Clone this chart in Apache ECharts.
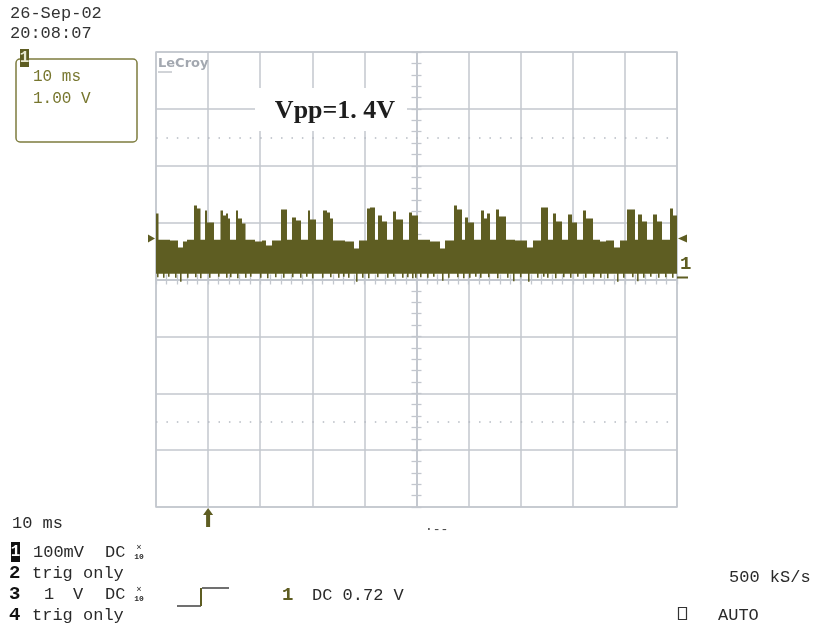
<!DOCTYPE html>
<html><head><meta charset="utf-8">
<script src="https://cdn.jsdelivr.net/npm/echarts@6/dist/echarts.min.js"></script>
<style>html,body{margin:0;padding:0;background:#fff}#c{width:815px;height:630px}</style>
</head><body><div id="c"></div>
<script>
// ---- data (time in ms from left edge, 10 ms/div; volts, 1 V/div) ----
const upperEnv = [[0,1.16],[0.48,0.70],[2.69,0.685],[4.22,0.562],[5.18,0.668],[5.95,0.70],[7.29,1.30],[7.87,1.248],[8.54,0.70],[9.41,1.213],[9.79,1.002],[11.13,0.70],[12.38,1.213],[12.86,1.125],[13.44,1.16],[13.82,1.072],[14.20,0.70],[15.36,1.213],[15.74,1.072],[16.51,0.984],[17.18,0.70],[19.00,0.668],[20.35,0.685],[21.11,0.598],[22.27,0.685],[23.99,1.23],[25.14,0.70],[26.10,1.09],[26.87,1.037],[27.83,0.70],[29.17,1.213],[29.56,1.055],[30.71,0.70],[32.05,1.213],[32.82,1.178],[33.40,1.072],[33.97,0.685],[36.28,0.668],[38.00,0.545],[38.96,0.685],[40.50,1.248],[41.08,1.265],[42.03,0.70],[42.61,1.125],[43.38,1.019],[44.34,0.70],[45.49,1.195],[46.07,1.055],[47.41,0.70],[48.56,1.178],[49.14,1.125],[50.29,0.70],[52.59,0.668],[54.51,0.545],[55.47,0.685],[57.20,1.30],[57.77,1.23],[58.73,0.70],[59.31,1.09],[59.89,1.002],[61.04,0.70],[62.38,1.213],[62.96,1.072],[63.53,1.16],[64.11,0.70],[65.26,1.23],[65.84,1.107],[67.18,0.70],[68.91,0.685],[71.21,0.562],[72.36,0.685],[73.90,1.265],[75.24,0.70],[76.20,1.16],[76.78,1.019],[77.93,0.70],[79.08,1.142],[79.85,1.002],[80.81,0.70],[81.96,1.213],[82.53,1.072],[83.88,0.70],[85.22,0.668],[86.37,0.685],[87.91,0.562],[89.06,0.685],[90.40,1.23],[91.94,0.70],[92.51,1.142],[93.28,1.019],[94.24,0.70],[95.39,1.142],[96.16,1.019],[97.12,0.70],[98.66,1.248],[99.23,1.125],[100,1.125]];
const lowerBase = 0.10;
const lowerSpikeT = [0.19,1.34,2.30,3.65,4.61,5.95,7.49,8.45,10.17,11.90,13.44,14.20,15.55,17.08,18.04,19.96,21.30,22.84,24.38,26.10,27.64,28.79,29.94,31.86,33.40,34.93,35.89,36.85,38.39,39.54,40.69,42.42,44.34,45.49,47.22,48.18,49.14,49.71,50.67,52.02,53.17,54.89,56.05,57.78,58.93,60.08,61.23,62.19,63.72,65.45,67.37,68.52,69.86,71.40,73.13,74.28,75.05,76.58,78.12,79.46,80.81,82.34,83.88,85.22,86.56,88.48,89.64,91.37,92.33,93.48,94.82,96.35,97.70,99.04];
const lowerSpikeV = [0.04,0.03,0.05,0.03,-0.04,0.03,0.04,0.02,0.03,0.05,0.03,0.04,0.02,0.03,0.05,0.03,0.02,0.04,0.03,0.04,0.03,0.05,0.02,0.03,0.04,0.03,0.05,0.03,-0.04,0.03,0.02,0.04,0.03,0.05,0.03,0.04,0.02,0.03,0.04,0.03,0.05,-0.02,0.03,0.04,0.02,0.03,0.05,0.03,0.04,0.02,0.03,-0.03,0.04,-0.04,0.03,0.05,0.03,0.02,0.04,0.03,0.05,0.03,0.04,0.03,0.02,-0.04,0.03,0.04,-0.03,0.03,0.05,0.03,0.04,0.03];
const triggerLevel = 0.72;   // V
const triggerTime = 10;      // ms from left edge
const groundLevel = 0;       // V
const dottedLevels = [2.5, -2.5];

// ---- build band table ----
const spikeWidth = 0.3;
const lowerEnv = [[0, lowerBase]];
lowerSpikeT.forEach((t, i) => { lowerEnv.push([t, lowerSpikeV[i]]); lowerEnv.push([t + spikeWidth, lowerBase]); });
function stepVal(pairs, t) { let v = pairs[0][1]; for (const p of pairs) { if (p[0] <= t + 1e-9) v = p[1]; else break; } return v; }
const ts = Array.from(new Set(upperEnv.map(p => p[0]).concat(lowerEnv.map(p => p[0])))).filter(t => t < 100).sort((a, b) => a - b);
const band = ts.map((t, i) => [t, i < ts.length - 1 ? ts[i + 1] : 100, stepVal(lowerEnv, t), stepVal(upperEnv, t)]);

const GRID = '#c3c7ce', OLIVE = '#5e5d22', MONO = 'Liberation Mono';
const chart = echarts.init(document.getElementById('c'), null, { renderer: 'canvas' });
const tickCommon = { show: true, inside: true, length: 5, lineStyle: { color: GRID, width: 1.3 } };
const minorCommon = { show: true, splitNumber: 5, length: 5, lineStyle: { color: GRID, width: 1.3 } };
chart.setOption({
  animation: false,
  backgroundColor: '#fff',
  grid: { left: 156, top: 52, width: 521, height: 455, show: true, borderColor: GRID, borderWidth: 1.5, backgroundColor: 'transparent' },
  xAxis: [
    { type: 'value', min: 0, max: 100, interval: 10, position: 'bottom',
      axisLine: { show: true, onZero: true, lineStyle: { color: GRID, width: 1.5 } },
      axisTick: tickCommon, minorTick: minorCommon, axisLabel: { show: false },
      splitLine: { show: true, lineStyle: { color: GRID, width: 1.5 } } },
    { type: 'value', min: 0, max: 100, interval: 10, position: 'top',
      axisLine: { show: true, onZero: true, lineStyle: { color: GRID, width: 1.5 } },
      axisTick: tickCommon, minorTick: minorCommon, axisLabel: { show: false }, splitLine: { show: false } }
  ],
  yAxis: [
    { type: 'value', min: -4, max: 4, interval: 1, position: 'left', offset: -260.5,
      axisLine: { show: true, onZero: false, lineStyle: { color: GRID, width: 1.5 } },
      axisTick: tickCommon, minorTick: minorCommon, axisLabel: { show: false },
      splitLine: { show: true, lineStyle: { color: GRID, width: 1.5 } } },
    { type: 'value', min: -4, max: 4, interval: 1, position: 'right', offset: -260.5,
      axisLine: { show: true, onZero: false, lineStyle: { color: GRID, width: 1.5 } },
      axisTick: tickCommon, minorTick: minorCommon, axisLabel: { show: false }, splitLine: { show: false } }
  ],
  series: [{
    type: 'custom', xAxisIndex: 0, yAxisIndex: 0, z: 5,
    data: band,
    encode: { x: [0, 1], y: [2, 3] },
    renderItem(params, api) {
      if (params.dataIndex !== 0) return null;
      const top = [], bot = [];
      band.forEach(b => {
        top.push(api.coord([b[0], b[3]]), api.coord([b[1], b[3]]));
        bot.push(api.coord([b[0], b[2]]), api.coord([b[1], b[2]]));
      });
      return { type: 'polygon', shape: { points: top.concat(bot.reverse()) }, style: { fill: OLIVE } };
    },
    markLine: { silent: true, symbol: 'none', label: { show: false },
      lineStyle: { color: '#b5bac2', width: 1.5, type: [1.5, 8.92] },
      data: dottedLevels.map(v => ({ yAxis: v })) }
  }]
});

const tl = chart.convertToPixel({ gridIndex: 0 }, [0, triggerLevel]);
const tr = chart.convertToPixel({ gridIndex: 0 }, [100, triggerLevel]);
const gr = chart.convertToPixel({ gridIndex: 0 }, [100, groundLevel]);
const tt = chart.convertToPixel({ gridIndex: 0 }, [triggerTime, -4]);

function txt(x, y, s, o) {
  o = o || {};
  return { type: 'text', x, y, z: 120, style: { text: s, fill: o.c || '#2a2a2a', font: (o.w || 'normal') + ' ' + (o.s || 17) + 'px ' + (o.f || MONO), align: o.a || 'left', verticalAlign: 'middle' } };
}
const g = [
  { type: 'rect', z: 110, shape: { x: 255, y: 88, width: 152, height: 43 }, style: { fill: '#fff' } },
  txt(335, 111, 'Vpp=1. 4V', { s: 26, w: 'bold', f: 'Liberation Serif', a: 'center', c: '#1e1e1e' }),
  txt(158, 64, 'LeCroy', { s: 13, w: 'bold', f: 'DejaVu Sans', c: '#a3a8b0' }),
  { type: 'line', z: 120, shape: { x1: 158, y1: 72, x2: 172, y2: 72 }, style: { stroke: '#a3a8b0', lineWidth: 1 } },
  { type: 'polygon', z: 120, shape: { points: [[tl[0] - 8, tl[1] - 4], [tl[0] - 8, tl[1] + 4], [tl[0] - 1, tl[1]]] }, style: { fill: OLIVE } },
  { type: 'polygon', z: 120, shape: { points: [[tr[0] + 10, tr[1] - 4], [tr[0] + 10, tr[1] + 4], [tr[0] + 1, tr[1]]] }, style: { fill: OLIVE } },
  txt(gr[0] + 3, gr[1] - 15, '1', { s: 19, w: 'bold', c: OLIVE }),
  { type: 'line', z: 120, shape: { x1: gr[0], y1: gr[1] - 2, x2: gr[0] + 11, y2: gr[1] - 2 }, style: { stroke: OLIVE, lineWidth: 2 } },
  { type: 'polygon', z: 120, shape: { points: [[tt[0], tt[1] + 1], [tt[0] - 5, tt[1] + 8], [tt[0] - 2, tt[1] + 8], [tt[0] - 2, tt[1] + 20], [tt[0] + 2, tt[1] + 20], [tt[0] + 2, tt[1] + 8], [tt[0] + 5, tt[1] + 8]] }, style: { fill: OLIVE } },
  txt(10, 13, '26-Sep-02', { c: '#333' }),
  txt(10, 33, '20:08:07', { c: '#333' }),
  { type: 'rect', z: 110, shape: { x: 16, y: 59, width: 121, height: 83, r: 4 }, style: { fill: 'none', stroke: '#7d7c3e', lineWidth: 1.5 } },
  { type: 'rect', z: 115, shape: { x: 20, y: 49, width: 9, height: 18 }, style: { fill: OLIVE } },
  txt(24.5, 58, '1', { s: 16, w: 'bold', a: 'center', c: '#e8e8d0' }),
  txt(33, 77, '10 ms', { c: '#77762e', s: 16 }),
  txt(33, 99, '1.00 V', { c: '#77762e', s: 16 }),
  txt(12, 523, '10 ms'),
  { type: 'rect', z: 115, shape: { x: 11, y: 542, width: 9, height: 20 }, style: { fill: '#111' } },
  txt(15.5, 552, '1', { s: 16, w: 'bold', a: 'center', c: '#fff' }),
  txt(33, 552, '100mV'), txt(105, 552, 'DC'),
  txt(139, 548, '×', { s: 9, a: 'center' }), txt(139, 557, '10', { s: 8, w: 'bold', a: 'center' }),
  txt(9, 573, '2', { s: 19, w: 'bold', c: '#111' }), txt(32, 573, 'trig only'),
  txt(9, 594, '3', { s: 19, w: 'bold', c: '#111' }), txt(44, 594, '1'), txt(73, 594, 'V'), txt(105, 594, 'DC'),
  txt(139, 590, '×', { s: 9, a: 'center' }), txt(139, 599, '10', { s: 8, w: 'bold', a: 'center' }),
  txt(9, 615, '4', { s: 19, w: 'bold', c: '#111' }), txt(32, 615, 'trig only'),
  { type: 'polyline', z: 120, shape: { points: [[177, 606], [201, 606]] }, style: { stroke: '#222', lineWidth: 1.3 } },
  { type: 'polyline', z: 120, shape: { points: [[201, 606], [201, 588]] }, style: { stroke: OLIVE, lineWidth: 2 } },
  { type: 'polyline', z: 120, shape: { points: [[202, 588], [229, 588]] }, style: { stroke: '#222', lineWidth: 1.3 } },
  txt(282, 595, '1', { s: 19, w: 'bold', c: OLIVE }),
  txt(312, 595, 'DC 0.72 V'),
  txt(425, 530, '·--', { s: 13, c: '#444' }),
  txt(729, 577, '500 kS/s'),
  { type: 'rect', z: 120, shape: { x: 678.5, y: 607.5, width: 8, height: 12 }, style: { fill: 'none', stroke: '#333', lineWidth: 1.2 } },
  txt(718, 615, 'AUTO')
];
chart.setOption({ graphic: g });
</script></body></html>
